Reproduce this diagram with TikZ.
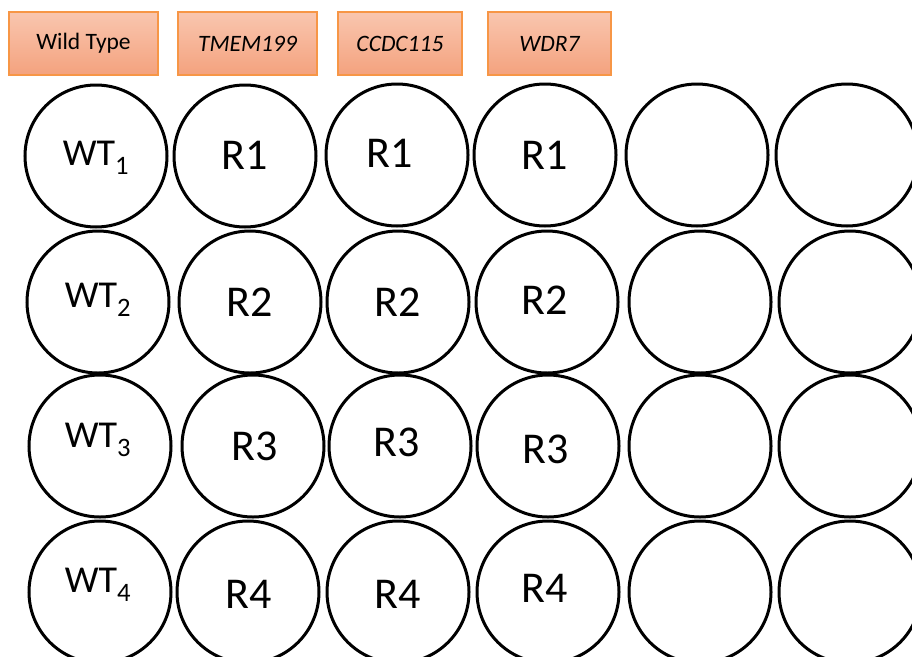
\documentclass[tikz,border=0pt]{standalone}
\usepackage{fontspec}
\setmainfont{Carlito}
\definecolor{hdtop}{HTML}{F9C6AF}
\definecolor{hdbot}{HTML}{F4A27E}
\definecolor{hdline}{HTML}{F79646}
\tikzset{
  hdr/.style={draw=hdline, line width=1.2pt, top color=hdtop, bottom color=hdbot,
    minimum height=63pt, inner sep=0pt, font=\fontsize{23.5}{26}\selectfont},
  well/.style={circle, draw=black, line width=3pt, minimum size=142pt, inner sep=0pt},
  wlab/.style={font=\fontsize{44}{48}\selectfont, inner sep=0pt},
  wtlab/.style={font=\fontsize{38}{42}\selectfont, inner sep=0pt}
}
\begin{document}
\begin{tikzpicture}[x=1pt,y=-1pt]
\useasboundingbox (0,0) rectangle (912,656);
% headers
\node[hdr, minimum width=149pt] (h1) at (83.5,43.5) {Wild Type};
\node[hdr, minimum width=139pt] (h2) at (247.5,43.5) {\itshape TMEM199};
\node[hdr, minimum width=124pt] (h3) at (400,43.5) {\itshape CCDC115};
\node[hdr, minimum width=123pt] (h4) at (549.5,43.5) {\itshape WDR7};
% wells row 1
\node[well] (a1) at (96,156) {};
\node[well] (a2) at (245,156) {};
\node[well] (a3) at (397,155) {};
\node[well] (a4) at (545,155) {};
\node[well] (a5) at (697,155) {};
\node[well] (a6) at (847,155) {};
% row 2
\node[well] (b1) at (98,302) {};
\node[well] (b2) at (250,302) {};
\node[well] (b3) at (398,302) {};
\node[well] (b4) at (547,302) {};
\node[well] (b5) at (700,302) {};
\node[well] (b6) at (850,302) {};
% row 3
\node[well] (c1) at (100,446) {};
\node[well] (c2) at (253,446) {};
\node[well] (c3) at (400,446) {};
\node[well] (c4) at (548,446) {};
\node[well] (c5) at (700,446) {};
\node[well] (c6) at (850,446) {};
% row 4
\node[well] (d1) at (100,592) {};
\node[well] (d2) at (248,592) {};
\node[well] (d3) at (398,592) {};
\node[well] (d4) at (548,592) {};
\node[well] (d5) at (700,592) {};
\node[well] (d6) at (850,592) {};
% labels
\node[wtlab] (la1) at (96,158) {WT\textsubscript{1}};
\node[wlab] (la2) at (245,155) {R1};
\node[wlab] (la3) at (390,153) {R1};
\node[wlab] (la4) at (545,155) {R1};
\node[wtlab] (lb1) at (98,300) {WT\textsubscript{2}};
\node[wlab] (lb2) at (250,302) {R2};
\node[wlab] (lb3) at (398,302) {R2};
\node[wlab] (lb4) at (545,300) {R2};
\node[wtlab] (lc1) at (98,440) {WT\textsubscript{3}};
\node[wlab] (lc2) at (255,446) {R3};
\node[wlab] (lc3) at (397,442) {R3};
\node[wlab] (lc4) at (546,449) {R3};
\node[wtlab] (ld1) at (98,585) {WT\textsubscript{4}};
\node[wlab] (ld2) at (249,594) {R4};
\node[wlab] (ld3) at (398,594) {R4};
\node[wlab] (ld4) at (545,588) {R4};
\end{tikzpicture}
\end{document}
